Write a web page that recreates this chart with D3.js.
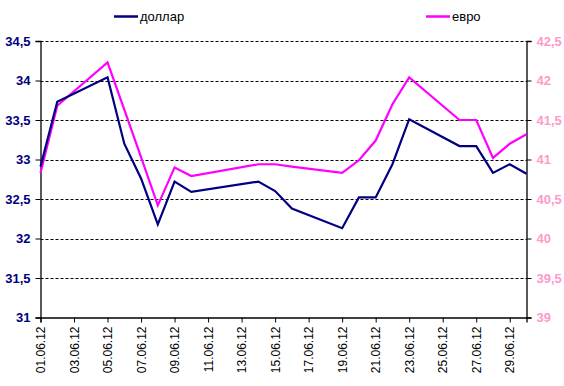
<!DOCTYPE html>
<html>
<head>
<meta charset="utf-8">
<script src="https://cdn.jsdelivr.net/npm/d3@7"></script>
<style>
body { margin:0; background:#fff; }
svg { font-family: Arial, "Liberation Sans", sans-serif; }
</style>
</head>
<body>
<svg id="chart" width="564" height="386"></svg>
<script>
// days of june 2012 with a value
var days   = [1, 2, 5, 6, 7, 8, 9, 10, 14, 15, 16, 19, 20, 21, 22, 23, 26, 27, 28, 29, 30];
var dollar = [32.91, 33.73, 34.04, 33.2, 32.76, 32.18, 32.72, 32.59, 32.72, 32.6, 32.38, 32.13, 32.52, 32.52, 32.94, 33.51, 33.17, 33.17, 32.83, 32.94, 32.82];
var euro   = [40.83, 41.68, 42.23, 41.63, 41.03, 40.42, 40.9, 40.79, 40.94, 40.94, 40.91, 40.83, 40.99, 41.24, 41.7, 42.04, 41.5, 41.5, 41.02, 41.2, 41.32];

var tickDays   = [1, 3, 5, 7, 9, 11, 13, 15, 17, 19, 21, 23, 25, 27, 29];
var tickLabels = ["01.06.12","03.06.12","05.06.12","07.06.12","09.06.12","11.06.12","13.06.12","15.06.12","17.06.12","19.06.12","21.06.12","23.06.12","25.06.12","27.06.12","29.06.12"];
var leftTicks  = [31, 31.5, 32, 32.5, 33, 33.5, 34, 34.5];
var rightTicks = [39, 39.5, 40, 40.5, 41, 41.5, 42, 42.5];

var colDollar = "#000080";
var colEuro = "#FF00FF";
var colRight = "#FF99CC";

var svg = d3.select("#chart");
var pLeft = 40.5, pRight = 526.5, pTop = 41, pBottom = 317.5;

var x = d3.scaleLinear().domain([1, 30]).range([pLeft, pRight]);
var yL = d3.scaleLinear().domain([31, 34.5]).range([pBottom, pTop]);
var yR = d3.scaleLinear().domain([39, 42.5]).range([pBottom, pTop]);

function fmt(v){ return String(v).replace(".", ","); }

// grid
svg.append("g").selectAll("line")
   .data(leftTicks.slice(1))
   .enter().append("line")
   .attr("x1", pLeft).attr("x2", pRight)
   .attr("y1", function(d){ return Math.round(yL(d)) + 0.5; })
   .attr("y2", function(d){ return Math.round(yL(d)) + 0.5; })
   .attr("stroke", "#000")
   .attr("stroke-width", 1)
   .attr("stroke-dasharray", "3,2");

// left axis
var gL = svg.append("g")
   .attr("transform", "translate(" + pLeft + ",0)")
   .call(d3.axisLeft(yL).tickValues(leftTicks).tickSize(5).tickPadding(5).tickFormat(fmt));
gL.selectAll("text")
   .attr("fill", colDollar)
   .attr("font-size", "13px")
   .attr("font-weight", "bold");

// right axis
var gR = svg.append("g")
   .attr("transform", "translate(" + pRight + ",0)")
   .call(d3.axisRight(yR).tickValues(rightTicks).tickSize(5).tickPadding(5).tickFormat(fmt));
gR.selectAll("text")
   .attr("fill", colRight)
   .attr("font-size", "13px")
   .attr("font-weight", "bold");

// bottom axis
var gX = svg.append("g")
   .attr("transform", "translate(0," + pBottom + ")")
   .call(d3.axisBottom(x).tickValues(tickDays).tickSize(5)
      .tickFormat(function(d, i){ return tickLabels[i]; }));
gX.selectAll("text")
   .attr("transform", "rotate(-90)")
   .attr("text-anchor", "end")
   .attr("x", -9)
   .attr("y", 0)
   .attr("dy", "0.35em")
   .attr("fill", "#000")
   .attr("font-size", "12px");

svg.selectAll(".domain").attr("stroke", "#000").attr("stroke-width", 1.3);
svg.selectAll(".tick line").attr("stroke", "#000");

// lines
var lineL = d3.line()
   .x(function(d, i){ return x(days[i]); })
   .y(function(d){ return yL(d); });
var lineR = d3.line()
   .x(function(d, i){ return x(days[i]); })
   .y(function(d){ return yR(d); });

svg.append("path")
   .attr("d", lineR(euro))
   .attr("fill", "none")
   .attr("stroke", colEuro)
   .attr("stroke-width", 2.2);

svg.append("path")
   .attr("d", lineL(dollar))
   .attr("fill", "none")
   .attr("stroke", colDollar)
   .attr("stroke-width", 2.2);

// legend
var legend = [
  {name: "доллар", color: colDollar, x: 114},
  {name: "евро", color: colEuro, x: 426}
];
legend.forEach(function(l){
  svg.append("line")
     .attr("x1", l.x).attr("x2", l.x + 24)
     .attr("y1", 16.5).attr("y2", 16.5)
     .attr("stroke", l.color)
     .attr("stroke-width", 2.5);
  svg.append("text")
     .attr("x", l.x + 26)
     .attr("y", 21)
     .attr("font-size", "13px")
     .attr("fill", "#000")
     .text(l.name);
});
</script>
</body>
</html>
